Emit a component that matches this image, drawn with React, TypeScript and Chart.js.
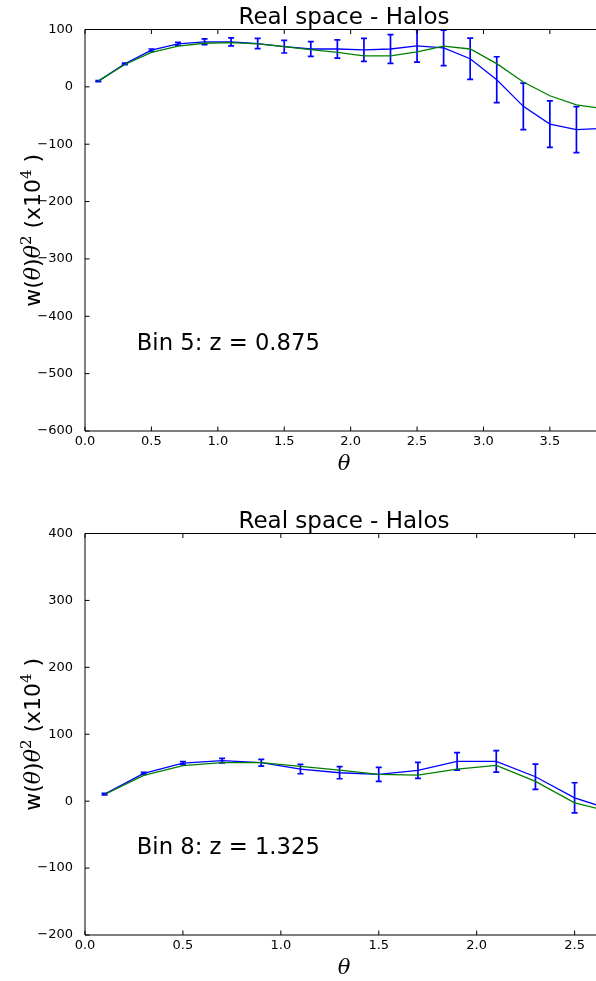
import React, { useEffect, useRef } from 'react';
import { Chart, registerables } from 'chart.js';

Chart.register(...registerables);

const PANEL_TITLE = 'Real space - Halos';

// Bin 5, z = 0.875
const theta5 = [0.1, 0.3, 0.5, 0.7, 0.9, 1.1, 1.3, 1.5, 1.7, 1.9, 2.1, 2.3, 2.5, 2.7, 2.9, 3.1, 3.3, 3.5, 3.7, 3.9];
const measured5 = [10, 40, 64, 75, 78.5, 78.5, 75.5, 70, 66, 66, 64.5, 66, 71.5, 68, 49, 12.5, -34, -65, -74.5, -72.5];
const error5 = [1, 1.5, 2, 2.5, 5, 7, 9, 11, 13, 16, 20, 25, 28.5, 31, 36, 40, 40.5, 40.5, 40, 40];
const model5 = [10, 39, 60, 71, 76, 77, 75, 70, 65, 60, 54, 54, 61, 71, 66, 40.5, 8.5, -15.5, -31.5, -38];
const xTicks5 = [0, 0.5, 1, 1.5, 2, 2.5, 3, 3.5];
const yTicks5 = [-600, -500, -400, -300, -200, -100, 0, 100];

// Bin 8, z = 1.325
const theta8 = [0.1, 0.3, 0.5, 0.7, 0.9, 1.1, 1.3, 1.5, 1.7, 1.9, 2.1, 2.3, 2.5, 2.7];
const measured8 = [10.5, 41.5, 57, 60.5, 57.5, 48, 42.5, 40, 46, 59.5, 59.5, 36.5, 5, -14];
const error8 = [1, 1.5, 2, 3.5, 5, 7, 9, 10.5, 12, 13, 16, 19, 22.5, 24];
const model8 = [10, 38.5, 53, 57.5, 57.5, 52, 46.5, 40, 39, 48, 53.5, 29.5, -2.5, -17];
const xTicks8 = [0, 0.5, 1, 1.5, 2, 2.5];
const yTicks8 = [-200, -100, 0, 100, 200, 300, 400];

const BLUE = '#0000ff';
const GREEN = '#008000';
const SANS = '"DejaVu Sans", sans-serif';
const SERIF = '"DejaVu Serif", serif';
const CANVAS_W = 603;
const AXIS_LEFT = 85;

type PanelProps = {
  theta: number[];
  measured: number[];
  error: number[];
  model: number[];
  xTicks: number[];
  yTicks: number[];
  xMax: number;
  label: string;
  offsetTop: number;
  height: number;
  plotTop: number;
  plotBottom: number;
};

function fmtY(v: number) {
  return String(v).replace('-', '\u2212');
}

function makeDecor(p: PanelProps) {
  return {
    id: 'panelDecor',
    beforeDatasetsDraw(chart: any) {
      const { ctx, chartArea: a, scales } = chart;
      const x = scales.x;
      const y = scales.y;
      const cap = 3;
      ctx.save();
      ctx.beginPath();
      ctx.rect(a.left, a.top, a.right - a.left, a.bottom - a.top);
      ctx.clip();
      ctx.strokeStyle = BLUE;
      ctx.lineWidth = 1.7;
      p.theta.forEach((t, i) => {
        const px = x.getPixelForValue(t);
        const lo = y.getPixelForValue(p.measured[i] - p.error[i]);
        const hi = y.getPixelForValue(p.measured[i] + p.error[i]);
        ctx.beginPath();
        ctx.moveTo(px, lo);
        ctx.lineTo(px, hi);
        ctx.moveTo(px - cap, lo);
        ctx.lineTo(px + cap, lo);
        ctx.moveTo(px - cap, hi);
        ctx.lineTo(px + cap, hi);
        ctx.stroke();
      });
      ctx.restore();
    },
    afterDraw(chart: any) {
      const { ctx, chartArea: a, scales } = chart;
      const x = scales.x;
      const y = scales.y;
      ctx.save();

      // frame
      ctx.strokeStyle = '#000';
      ctx.lineWidth = 1;
      ctx.beginPath();
      ctx.moveTo(a.left, a.top);
      ctx.lineTo(a.left, a.bottom);
      ctx.moveTo(a.left, a.top);
      ctx.lineTo(a.right, a.top);
      ctx.moveTo(a.left, a.bottom);
      ctx.lineTo(a.right, a.bottom);
      ctx.moveTo(a.right, a.top);
      ctx.lineTo(a.right, a.bottom);
      ctx.stroke();

      // inward tick marks
      const tl = 4.5;
      ctx.beginPath();
      p.xTicks.forEach((v) => {
        const px = x.getPixelForValue(v);
        ctx.moveTo(px, a.bottom);
        ctx.lineTo(px, a.bottom - tl);
        ctx.moveTo(px, a.top);
        ctx.lineTo(px, a.top + tl);
      });
      p.yTicks.forEach((v) => {
        const py = y.getPixelForValue(v);
        ctx.moveTo(a.left, py);
        ctx.lineTo(a.left + tl, py);
        ctx.moveTo(a.right, py);
        ctx.lineTo(a.right - tl, py);
      });
      ctx.stroke();

      const cx = (a.left + a.right) / 2;
      ctx.fillStyle = '#000';
      ctx.textBaseline = 'alphabetic';

      // title
      ctx.font = `23px ${SANS}`;
      ctx.textAlign = 'center';
      ctx.fillText(PANEL_TITLE, cx, a.top - 5.5);

      // x axis label
      ctx.font = `italic 21px ${SERIF}`;
      ctx.fillText('\u03b8', cx, a.bottom + 39);

      // bin annotation
      ctx.font = `22.7px ${SANS}`;
      ctx.textAlign = 'left';
      ctx.fillText(p.label, a.left + 0.1 * (a.right - a.left), a.bottom - 81);

      // y axis label: w(θ)θ² (x10⁴ )
      const size = 22;
      const sans = `${size}px ${SANS}`;
      const it = `italic ${size}px ${SERIF}`;
      const sup = `${Math.round(size * 0.7)}px ${SERIF}`;
      const segs = [
        { t: 'w(', f: sans, dy: 0 },
        { t: '\u03b8', f: it, dy: 0 },
        { t: ')', f: sans, dy: 0 },
        { t: '\u03b8', f: it, dy: 0 },
        { t: '2', f: sup, dy: -9 },
        { t: ' (x10', f: sans, dy: 0 },
        { t: '4', f: sup, dy: -9 },
        { t: ' )', f: sans, dy: 0 },
      ];
      let total = 0;
      const widths = segs.map((s) => {
        ctx.font = s.f;
        const w = ctx.measureText(s.t).width;
        total += w;
        return w;
      });
      ctx.translate(40, (a.top + a.bottom) / 2);
      ctx.rotate(-Math.PI / 2);
      let sx = -total / 2;
      segs.forEach((s, i) => {
        ctx.font = s.f;
        ctx.fillText(s.t, sx, s.dy);
        sx += widths[i];
      });
      ctx.restore();
    },
  };
}

function Panel(p: PanelProps) {
  const ref = useRef<HTMLCanvasElement | null>(null);

  useEffect(() => {
    const canvas = ref.current;
    if (!canvas) return;
    const yMin = p.yTicks[0];
    const yMax = p.yTicks[p.yTicks.length - 1];
    const chart = new Chart(canvas, {
      type: 'line',
      data: {
        datasets: [
          {
            label: 'model',
            data: p.theta.map((t, i) => ({ x: t, y: p.model[i] })),
            borderColor: GREEN,
            borderWidth: 1.3,
            pointRadius: 0,
            tension: 0,
            fill: false,
          },
          {
            label: 'measured',
            data: p.theta.map((t, i) => ({ x: t, y: p.measured[i] })),
            borderColor: BLUE,
            borderWidth: 1.3,
            pointRadius: 0,
            tension: 0,
            fill: false,
          },
        ],
      },
      options: {
        responsive: false,
        animation: false,
        devicePixelRatio: 1,
        events: [],
        layout: { padding: { top: p.plotTop, left: 0, right: 0, bottom: 0 } },
        plugins: {
          legend: { display: false },
          tooltip: { enabled: false },
          title: { display: false },
        },
        scales: {
          x: {
            type: 'linear',
            min: 0,
            max: p.xMax,
            afterBuildTicks: (s: any) => {
              s.ticks = p.xTicks.map((v) => ({ value: v }));
            },
            afterFit: (s: any) => {
              s.height = p.height - p.plotBottom;
            },
            grid: { display: false },
            border: { display: false },
            ticks: {
              autoSkip: false,
              maxRotation: 0,
              padding: -5,
              color: '#000',
              font: { family: 'DejaVu Sans', size: 13 },
              callback: (v: any) => Number(v).toFixed(1),
            },
          },
          y: {
            type: 'linear',
            min: yMin,
            max: yMax,
            afterBuildTicks: (s: any) => {
              s.ticks = p.yTicks.map((v) => ({ value: v }));
            },
            afterFit: (s: any) => {
              s.width = AXIS_LEFT;
            },
            grid: { display: false },
            border: { display: false },
            ticks: {
              autoSkip: false,
              padding: 4,
              color: '#000',
              font: { family: 'DejaVu Sans', size: 13 },
              callback: (v: any) => fmtY(Number(v)),
            },
          },
        },
      },
      plugins: [makeDecor(p)],
    } as any);
    return () => chart.destroy();
  }, []);

  return (
    <canvas
      ref={ref}
      width={CANVAS_W}
      height={p.height}
      style={{ position: 'absolute', left: 0, top: p.offsetTop, width: CANVAS_W, height: p.height }}
    />
  );
}

export default function App() {
  return (
    <div
      style={{
        position: 'fixed',
        left: 0,
        top: 0,
        width: 596,
        height: 981,
        overflow: 'hidden',
        background: '#fff',
      }}
    >
      <Panel
        theta={theta5}
        measured={measured5}
        error={error5}
        model={model5}
        xTicks={xTicks5}
        yTicks={yTicks5}
        xMax={3.9}
        label="Bin 5: z = 0.875"
        offsetTop={0}
        height={490}
        plotTop={29.5}
        plotBottom={431}
      />
      <Panel
        theta={theta8}
        measured={measured8}
        error={error8}
        model={model8}
        xTicks={xTicks8}
        yTicks={yTicks8}
        xMax={2.645}
        label="Bin 8: z = 1.325"
        offsetTop={490}
        height={491}
        plotTop={43.5}
        plotBottom={445}
      />
    </div>
  );
}
